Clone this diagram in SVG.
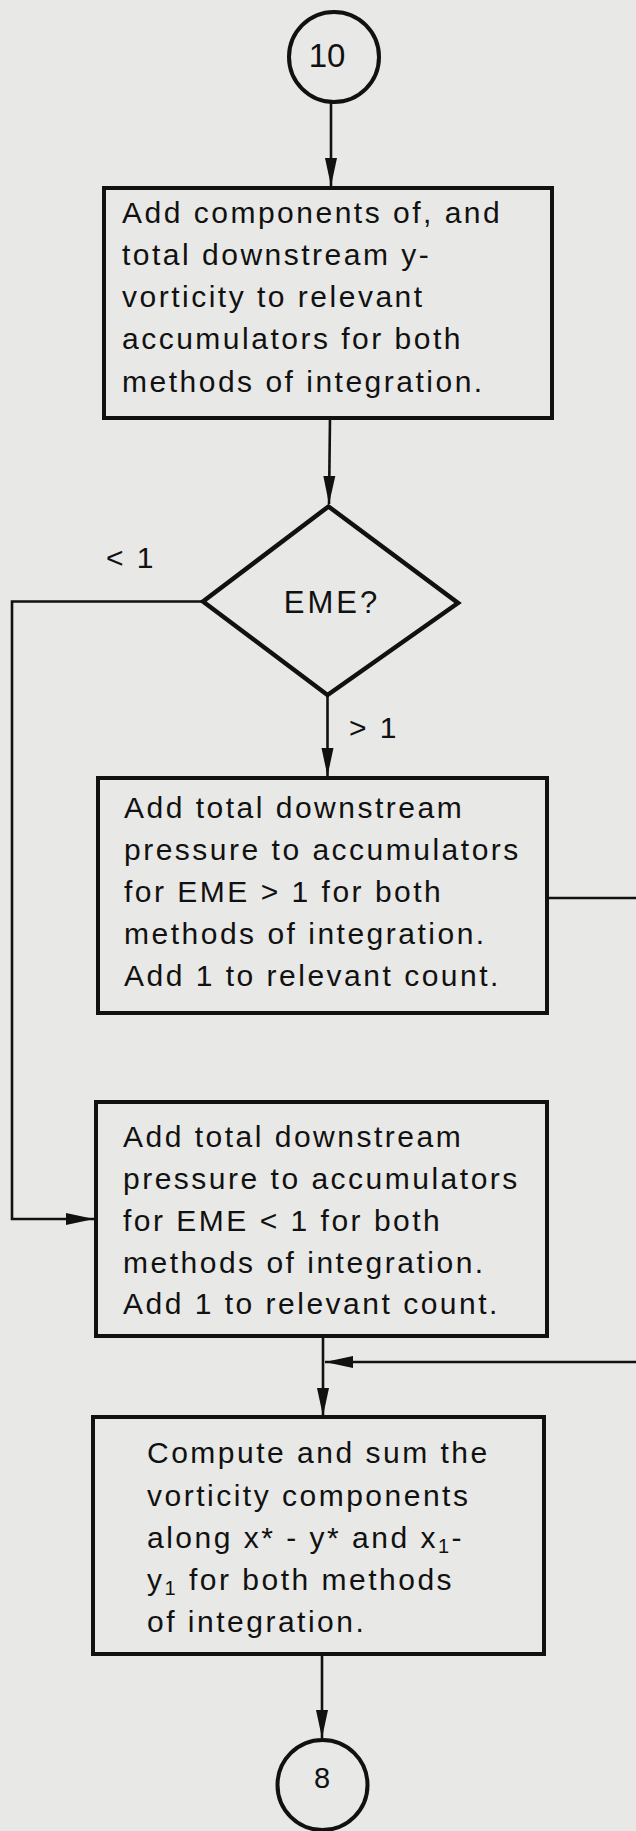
<svg xmlns="http://www.w3.org/2000/svg" width="636" height="1831" viewBox="0 0 636 1831">
<style>
  .bg{fill:#e8e8e6}
  .box{fill:none;stroke:#111;stroke-width:4}
  .term{fill:none;stroke:#111;stroke-width:4}
  .dec{fill:none;stroke:#111;stroke-width:4.5;stroke-linejoin:miter}
  .conn{fill:none;stroke:#111;stroke-width:2.6}
  .t{font-family:"Liberation Sans",Arial,sans-serif;font-size:30px;letter-spacing:2.5px;fill:#111}
  .c{text-anchor:middle;letter-spacing:0}
  .sub{font-size:20px}
</style>
<defs>
  <marker id="arr" markerUnits="userSpaceOnUse" markerWidth="29" markerHeight="13" refX="28" refY="6.5" orient="auto">
    <path d="M0,0.5 L28,6.5 L0,12.5 z" fill="#111"/>
  </marker>
</defs>
<rect class="bg" x="0" y="0" width="636" height="1831"/>

<g id="connectors">
  <line class="conn" x1="331" y1="102" x2="331" y2="186" marker-end="url(#arr)"/>
  <line class="conn" x1="330" y1="418" x2="329" y2="504" marker-end="url(#arr)"/>
  <line class="conn" x1="327.5" y1="696" x2="327.5" y2="776" marker-end="url(#arr)"/>
  <path class="conn" d="M203,601.5 H12 V1219 H94" marker-end="url(#arr)"/>
  <path class="conn" d="M547,898 H642 V1362 H325" marker-end="url(#arr)"/>
  <line class="conn" x1="323" y1="1336" x2="323" y2="1416" marker-end="url(#arr)"/>
  <line class="conn" x1="322" y1="1655" x2="322" y2="1738" marker-end="url(#arr)"/>
</g>

<g id="start">
  <circle class="term" cx="334" cy="57" r="45"/>
  <text class="t c" x="327" y="67" style="font-size:33px">10</text>
</g>

<g id="box1">
  <rect class="box" x="104" y="188" width="448" height="230"/>
  <text class="t" x="122" y="223">Add components of, and</text>
  <text class="t" x="122" y="265">total downstream y-</text>
  <text class="t" x="122" y="307">vorticity to relevant</text>
  <text class="t" x="122" y="349">accumulators for both</text>
  <text class="t" x="122" y="392">methods of integration.</text>
</g>

<g id="decision">
  <polygon class="dec" points="328.5,506.5 458,603 327.5,695 203,601.5"/>
  <text class="t c" x="332" y="613" style="font-size:31px;letter-spacing:3px">EME?</text>
  <text class="t" x="106" y="568">&lt; 1</text>
  <text class="t" x="349" y="738">&gt; 1</text>
</g>

<g id="box2">
  <rect class="box" x="98" y="778" width="449" height="235"/>
  <text class="t" x="124" y="818">Add total downstream</text>
  <text class="t" x="124" y="860">pressure to accumulators</text>
  <text class="t" x="124" y="902">for EME &gt; 1 for both</text>
  <text class="t" x="124" y="944">methods of integration.</text>
  <text class="t" x="124" y="986">Add 1 to relevant count.</text>
</g>

<g id="box3">
  <rect class="box" x="96" y="1102" width="451" height="234"/>
  <text class="t" x="123" y="1147">Add total downstream</text>
  <text class="t" x="123" y="1189">pressure to accumulators</text>
  <text class="t" x="123" y="1231">for EME &lt; 1 for both</text>
  <text class="t" x="123" y="1273">methods of integration.</text>
  <text class="t" x="123" y="1314">Add 1 to relevant count.</text>
</g>

<g id="box4">
  <rect class="box" x="93" y="1417" width="451" height="237"/>
  <text class="t" x="147" y="1463">Compute and sum the</text>
  <text class="t" x="147" y="1506">vorticity components</text>
  <text class="t" x="147" y="1548">along x* - y* and x<tspan class="sub" dy="5">1</tspan><tspan dy="-5">-</tspan></text>
  <text class="t" x="147" y="1590">y<tspan class="sub" dy="5">1</tspan><tspan dy="-5"> for both methods</tspan></text>
  <text class="t" x="147" y="1632">of integration.</text>
</g>

<g id="end">
  <circle class="term" cx="322.5" cy="1785" r="45"/>
  <text class="t c" x="322" y="1788" style="font-size:29px">8</text>
</g>
</svg>
